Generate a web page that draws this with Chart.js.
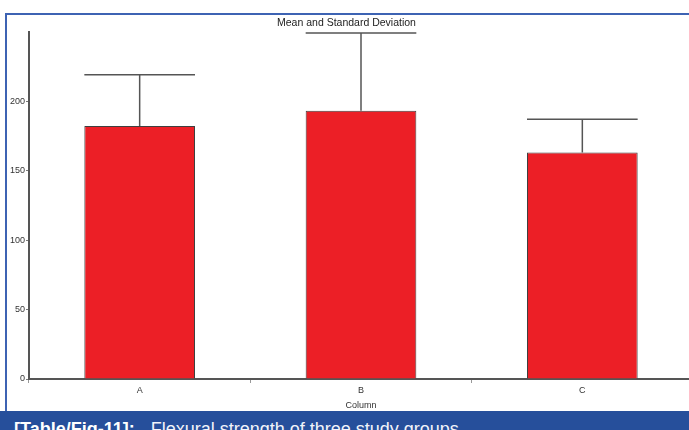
<!DOCTYPE html>
<html>
<head>
<meta charset="utf-8">
<script src="https://cdn.jsdelivr.net/npm/chart.js@4/dist/chart.umd.min.js"></script>
<style>
  html, body { margin: 0; padding: 0; background: #fff; }
  body { width: 689px; height: 430px; overflow: hidden; position: relative; }
  #frame {
    position: absolute; left: 5px; top: 13px; width: 700px; height: 400px;
    border-top: 2px solid #3d63b3; border-left: 2px solid #3d63b3;
  }
  #wrap { position: absolute; left: 0; top: 0; width: 693px; height: 411px; }
  #caption {
    position: absolute; left: 0; top: 411px; width: 689px; height: 19px;
    background: #264f9b; color: #fff; overflow: hidden;
    font-family: "Liberation Sans", Arial, sans-serif; font-size: 18px;
    white-space: nowrap;
  }
  #caption span.t { position: absolute; left: 14px; top: 9px; line-height: 18px; }
  #caption b { font-weight: bold; margin-right: 16px; }
  #caption span.r { color: #f2f4fa; }
</style>
</head>
<body>
<div id="frame"></div>
<div id="wrap"><canvas id="chart"></canvas></div>
<div id="caption"><span class="t"><b>[Table/Fig-11]:</b><span class="r">Flexural strength of three study groups</span></span></div>
<script>
const groups = ["A", "B", "C"];
const means = [182, 193, 163];
const sds = [37, 56, 24];
const yTicks = [0, 50, 100, 150, 200];

const axisColor = "#555";
const narrow = "'Liberation Sans Narrow', 'Arial Narrow', 'Liberation Sans', sans-serif";

// draws the upper standard deviation whisker on each bar
const sdBars = {
  id: "sdBars",
  afterDatasetsDraw(chart) {
    const ctx = chart.ctx;
    const y = chart.scales.y;
    const meta = chart.getDatasetMeta(0);
    ctx.save();
    ctx.strokeStyle = "#555";
    ctx.lineWidth = 1.5;
    meta.data.forEach(function (bar, i) {
      const top = y.getPixelForValue(means[i] + sds[i]);
      const half = bar.width / 2;
      ctx.beginPath();
      ctx.moveTo(bar.x, bar.y);
      ctx.lineTo(bar.x, top);
      ctx.moveTo(bar.x - half, top);
      ctx.lineTo(bar.x + half, top);
      ctx.stroke();
    });
    ctx.restore();
  }
};

new Chart(document.getElementById("chart"), {
  type: "bar",
  data: {
    labels: groups,
    datasets: [{
      data: means,
      backgroundColor: "#ec1f26",
      borderColor: "#3f3f3f",
      borderWidth: 1,
      barPercentage: 0.5,
      categoryPercentage: 1
    }]
  },
  options: {
    responsive: true,
    maintainAspectRatio: false,
    animation: false,
    layout: { padding: { top: 17, left: 0, right: 0, bottom: 0 } },
    plugins: {
      legend: { display: false },
      tooltip: { enabled: false },
      title: {
        display: true,
        text: "Mean and Standard Deviation",
        color: "#222",
        font: { family: narrow, size: 10.5, weight: "normal" },
        padding: { top: 0, bottom: 2 }
      }
    },
    scales: {
      x: {
        border: { color: axisColor, width: 2 },
        grid: { drawOnChartArea: false, tickLength: 4, color: "#999" },
        ticks: { color: "#333", font: { family: narrow, size: 9 }, padding: 2 },
        title: {
          display: true, text: "Column", color: "#333",
          font: { family: narrow, size: 9 }, padding: { top: 0, bottom: 0 }
        },
        afterFit(scale) { scale.height = 32; }
      },
      y: {
        min: 0,
        max: 250,
        border: { color: axisColor, width: 2 },
        grid: { drawOnChartArea: false, tickLength: 3, color: "#777" },
        ticks: { color: "#333", font: { family: narrow, size: 9 }, padding: 1 },
        afterBuildTicks(scale) {
          scale.ticks = yTicks.map(function (v) { return { value: v }; });
        },
        afterFit(scale) { scale.width = 29; }
      }
    }
  },
  plugins: [sdBars]
});
</script>
</body>
</html>
